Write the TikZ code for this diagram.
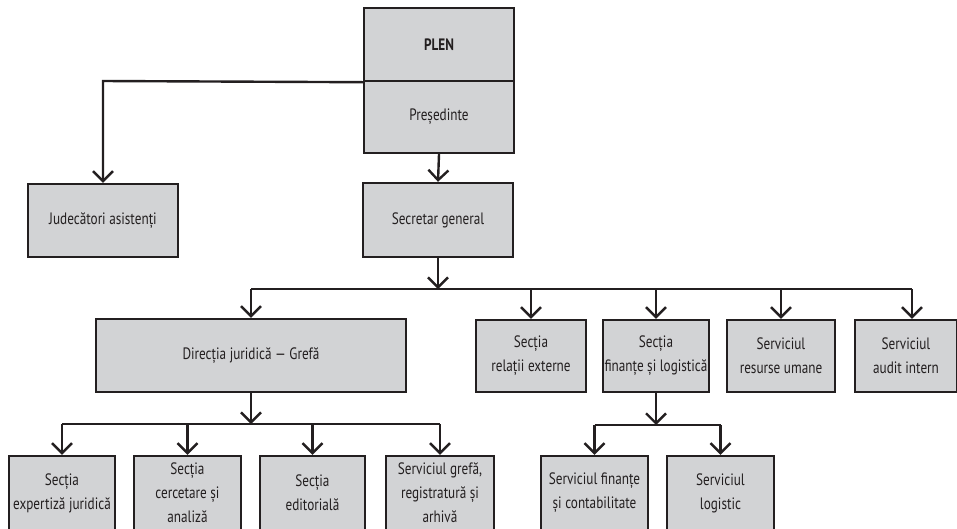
\documentclass[tikz,border=0pt]{standalone}
\usepackage{fontspec}
\setmainfont{PT Sans}[FakeStretch=0.8]
\usetikzlibrary{arrows.meta}
\definecolor{boxgray}{RGB}{210,211,213}
\definecolor{ink}{RGB}{35,31,32}
\tikzset{
  unit/.style={draw=ink, line width=2.4pt, fill=boxgray, inner sep=0pt, align=center,
    font=\fontsize{16.5}{24}\selectfont, text=ink},
  conn/.style={draw=ink, line width=2.4pt},
  arr/.style={conn, -{Straight Barb[length=10pt,width=20pt,line width=2.4pt]}},
}
\begin{document}
\begin{tikzpicture}[x=1pt,y=-1pt]
\useasboundingbox (0,0) rectangle (957,528);
% top
\node[unit, minimum width=150pt, minimum height=73pt] (plen) at (439,44.5) {\textbf{PLEN}};
\node[unit, minimum width=150pt, minimum height=72pt] (pres) at (439,117) {Președinte};
\node[unit, minimum width=150pt, minimum height=73pt] (jud) at (103,220.5) {Judecători asistenți};
\node[unit, minimum width=150pt, minimum height=74pt] (sec) at (438,220) {Secretar general};
% level 2
\node[unit, minimum width=310pt, minimum height=73pt] (dir) at (251,355.5) {Direcția juridică — Grefă};
\node[unit, minimum width=110pt, minimum height=72pt] (rel) at (531,356) {Secția\\relații externe};
\node[unit, minimum width=106pt, minimum height=72pt] (fin) at (656,356) {Secția\\finanțe și logistică};
\node[unit, minimum width=108pt, minimum height=72pt] (res) at (781,356) {Serviciul\\resurse umane};
\node[unit, minimum width=102pt, minimum height=72pt] (aud) at (906,356) {Serviciul\\audit intern};
% level 3
\node[unit, minimum width=106pt, minimum height=74pt] (exp) at (62,493) {Secția\\expertiză juridică};
\node[unit, minimum width=107pt, minimum height=74pt] (cer) at (187.5,493) {Secția\\cercetare și\\analiză};
\node[unit, minimum width=105pt, minimum height=74pt] (edi) at (312.5,493) {Secția\\editorială};
\node[unit, minimum width=108pt, minimum height=74pt] (gre) at (440,493) {Serviciul grefă,\\registratură și\\arhivă};
\node[unit, minimum width=107pt, minimum height=74pt] (sfc) at (594.5,493) {Serviciul finanțe\\și contabilitate};
\node[unit, minimum width=107pt, minimum height=74pt] (log) at (720.5,493) {Serviciul\\logistic};
% connectors
\coordinate (jt) at (103,81);
\draw[arr] (plen.south west) -- (jt) -- (jud.north);
\draw[arr] (pres.south) -- (sec.north);
\coordinate (b1) at (438,289);
\coordinate (b1l) at (251,289);
\coordinate (b1r) at (912,289);
\draw[arr] (sec.south) -- (b1);
\draw[conn] (b1l) -- (b1r);
\draw[arr] (b1l) -- (dir.north);
\draw[arr] (rel.north |- b1) -- (rel.north);
\draw[arr] (fin.north |- b1) -- (fin.north);
\draw[arr] (res.north |- b1) -- (res.north);
\draw[arr] (b1r) -- (b1r |- aud.north);
\coordinate (b2) at (251,424);
\coordinate (b2l) at (62,424);
\coordinate (b2r) at (440,424);
\draw[arr] (dir.south) -- (b2);
\draw[conn] (b2l) -- (b2r);
\draw[arr] (b2l) -- (exp.north);
\draw[arr] (cer.north |- b2) -- (cer.north);
\draw[arr] (edi.north |- b2) -- (edi.north);
\draw[arr] (b2r) -- (gre.north);
\coordinate (b3) at (656,425);
\coordinate (b3l) at (594.5,425);
\coordinate (b3r) at (720.5,425);
\draw[arr] (fin.south) -- (b3);
\draw[conn] (b3l) -- (b3r);
\draw[arr] (b3l) -- (sfc.north);
\draw[arr] (b3r) -- (log.north);
\end{tikzpicture}
\end{document}
